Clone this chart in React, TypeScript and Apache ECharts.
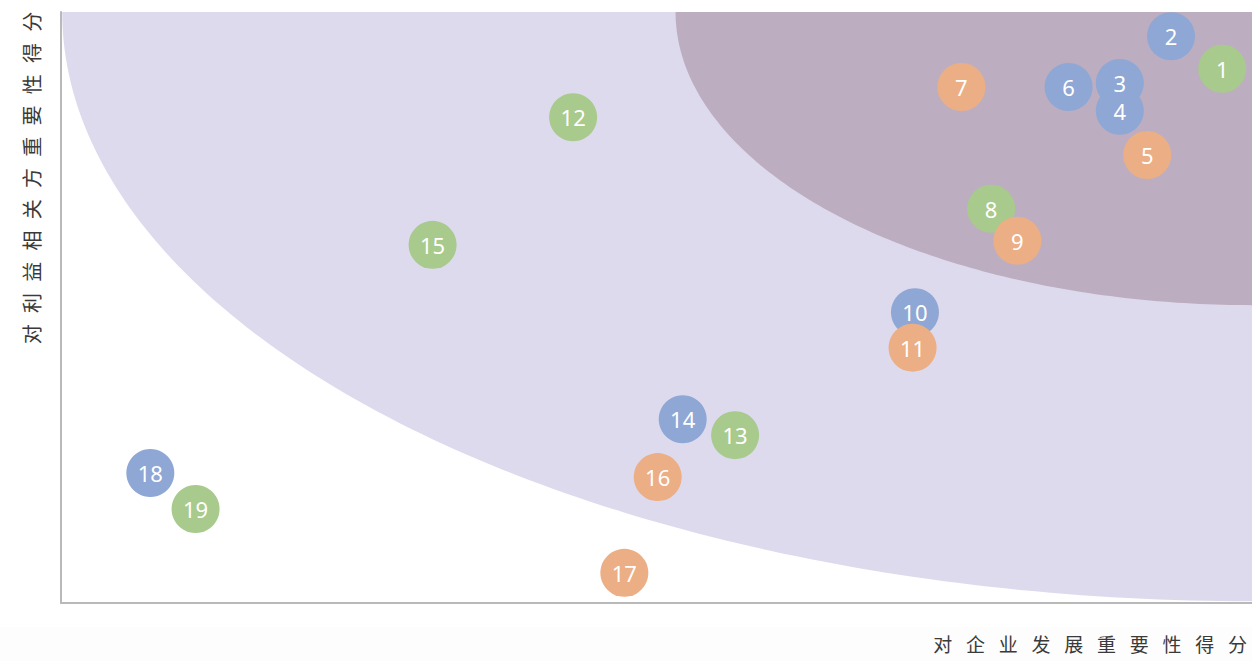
import React, { useEffect, useRef } from "react";
import * as echarts from "echarts";

// ---- data ----
const ids = ["1", "2", "3", "4", "5", "6", "7", "8", "9", "10", "11", "12", "13", "14", "15", "16", "17", "18", "19"];
const xs = [9.75, 9.32, 8.89, 8.89, 9.12, 8.46, 7.56, 7.81, 8.03, 7.17, 7.15, 4.30, 5.66, 5.22, 3.12, 5.01, 4.73, 0.75, 1.13];
const ys = [9.04, 9.59, 8.80, 8.33, 7.58, 8.73, 8.73, 6.67, 6.13, 4.92, 4.32, 8.22, 2.84, 3.11, 6.06, 2.13, 0.51, 2.20, 1.59];
const groups = ["g", "b", "b", "b", "o", "b", "o", "g", "o", "b", "o", "g", "g", "b", "g", "o", "o", "b", "g"];
const groupColors: Record<string, string> = { g: "#a8ca8c", b: "#8fa7d4", o: "#ecae84" };

const X_MAX = 10;
const Y_MAX = 10;
// quarter-ellipse zones anchored at the top-right corner (radii in data units)
const zoneRx = [9.99, 4.84];
const zoneRy = [9.97, 4.96];
const zoneColors = ["#dedaee", "#bcaec0"];

const xName = "对 企 业 发 展 重 要 性 得 分".split(" ").join("\u2002 ");
const yName = "对 利 益 相 关 方 重 要 性 得 分".split(" ").join("\u2002\u200A");

export default function App() {
  const ref = useRef<HTMLDivElement>(null);
  useEffect(() => {
    document.body.style.margin = "0";
    const chart = echarts.init(ref.current!, null, { renderer: "svg" });

    const zoneSeries = zoneRx.map((rx, k) => ({
      type: "custom",
      silent: true,
      clip: true,
      z: 1 + k,
      data: [[0, 0]],
      renderItem: (_p: any, api: any) => {
        const pts: number[][] = [];
        const n = 120;
        for (let i = 0; i <= n; i++) {
          const t = (i / n) * (Math.PI / 2);
          pts.push(api.coord([X_MAX - rx * Math.cos(t), Y_MAX - zoneRy[k] * Math.sin(t)]));
        }
        pts.push(api.coord([X_MAX, Y_MAX]));
        return { type: "polygon", shape: { points: pts }, style: { fill: zoneColors[k] } };
      },
    }));

    const points = ids.map((id, i) => ({
      value: [xs[i], ys[i], id],
      itemStyle: { color: groupColors[groups[i]], opacity: 1 },
    }));

    chart.setOption({
      animation: false,
      grid: { left: 61, right: 0, top: 12, bottom: 58 },
      xAxis: {
        type: "value",
        min: 0,
        max: X_MAX,
        axisLine: { show: true, lineStyle: { color: "#b9b9b9", width: 2 } },
        axisTick: { show: false },
        axisLabel: { show: false },
        splitLine: { show: false },
      },
      yAxis: {
        type: "value",
        min: 0,
        max: Y_MAX,
        axisLine: { show: true, lineStyle: { color: "#b9b9b9", width: 2 } },
        axisTick: { show: false },
        axisLabel: { show: false },
        splitLine: { show: false },
      },
      graphic: [
        {
          type: "rect",
          z: -10,
          silent: true,
          shape: { x: 0, y: 627, width: 1252, height: 40 },
          style: { fill: "#fdfdfd" },
        },
        {
          type: "text",
          x: 1247,
          y: 643,
          style: {
            text: xName,
            fill: "#3a3a3a",
            font: '19px "Noto Sans CJK SC"',
            align: "right",
            verticalAlign: "middle",
          },
        },
        {
          type: "text",
          x: 31,
          y: 178,
          rotation: Math.PI / 2,
          style: {
            text: yName,
            fill: "#3a3a3a",
            font: '20px "Noto Sans CJK SC"',
            align: "center",
            verticalAlign: "middle",
          },
        },
      ],
      series: [
        ...zoneSeries,
        {
          type: "scatter",
          z: 5,
          symbol: "circle",
          symbolSize: 48,
          data: points,
          itemStyle: { opacity: 1 },
          label: {
            show: true,
            position: "inside",
            formatter: (p: any) => p.value[2],
            color: "#ffffff",
            fontSize: 22,
            lineHeight: 22,
            fontFamily: "Noto Sans",
          },
        },
      ],
    });
    return () => chart.dispose();
  }, []);
  return <div ref={ref} style={{ width: 1252, height: 661 }} />;
}
